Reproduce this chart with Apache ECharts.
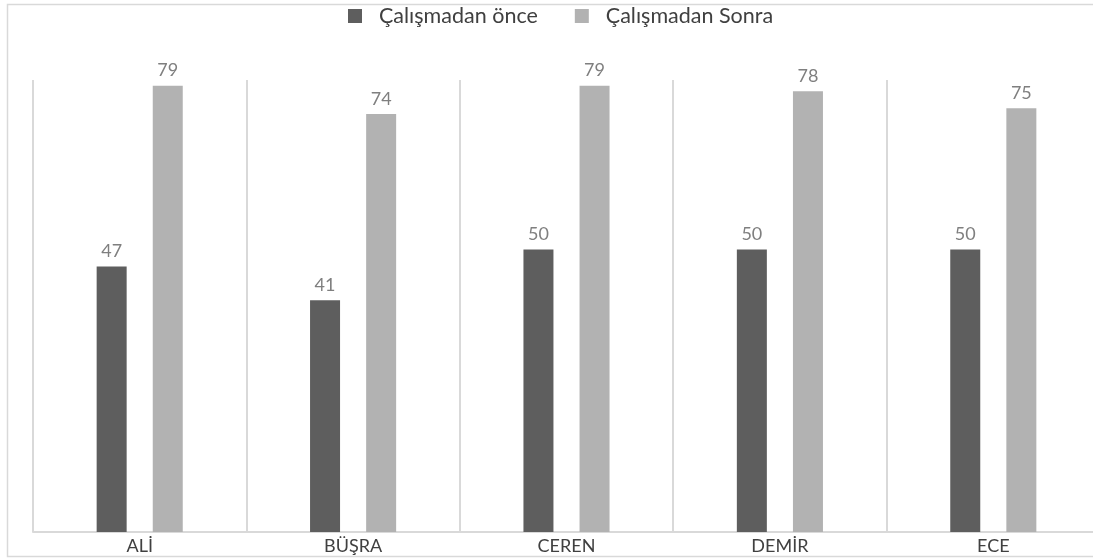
<!DOCTYPE html>
<html>
<head>
<meta charset="utf-8">
<script src="https://cdn.jsdelivr.net/npm/echarts@6/dist/echarts.min.js"></script>
<style>
  html, body { margin: 0; padding: 0; background: #fff; }
  #chart { width: 1093px; height: 558px; }
</style>
</head>
<body>
<div id="chart"></div>
<script>
const categories = ['ALİ', 'BÜŞRA', 'CEREN', 'DEMİR', 'ECE'];
const seriesNames = ['Çalışmadan önce', 'Çalışmadan Sonra'];
const beforeValues = [47, 41, 50, 50, 50];
const afterValues = [79, 74, 79, 78, 75];

const font = 'Lato';
const chart = echarts.init(document.getElementById('chart'));

const labelStyle = {
  show: true,
  position: 'top',
  distance: 6,
  color: '#7f7f7f',
  fontSize: 18,
  fontFamily: font
};

chart.setOption({
  animation: false,
  graphic: [{
    type: 'rect',
    shape: { x: 7.5, y: 4.5, width: 1100, height: 552 },
    style: { fill: 'none', stroke: '#d9d9d9', lineWidth: 1.5 },
    silent: true
  }],
  legend: {
    top: 0,
    left: 343,
    itemWidth: 14,
    itemHeight: 14,
    itemGap: 37,
    icon: 'rect',
    textStyle: { color: '#404040', fontSize: 21.5, fontFamily: font, padding: [0, 0, 0, 12] },
    data: seriesNames
  },
  grid: { left: 33, top: 80, width: 1067, height: 452, outerBoundsMode: 'none' },
  xAxis: {
    type: 'category',
    data: categories,
    axisLine: { lineStyle: { color: '#d9d9d9', width: 2 } },
    axisTick: { show: false },
    axisLabel: { color: '#404040', fontSize: 18, fontFamily: font, margin: 5 },
    splitLine: { show: true, lineStyle: { color: '#d9d9d9', width: 2 } }
  },
  yAxis: {
    type: 'value',
    min: 0,
    max: 80,
    show: false,
    splitLine: { show: false }
  },
  series: [
    {
      name: seriesNames[0],
      type: 'bar',
      data: beforeValues,
      barWidth: 30,
      barGap: '87%',
      itemStyle: { color: '#5e5e5e' },
      label: labelStyle
    },
    {
      name: seriesNames[1],
      type: 'bar',
      data: afterValues,
      barWidth: 30,
      itemStyle: { color: '#b2b2b2' },
      label: labelStyle
    }
  ]
});
</script>
</body>
</html>
